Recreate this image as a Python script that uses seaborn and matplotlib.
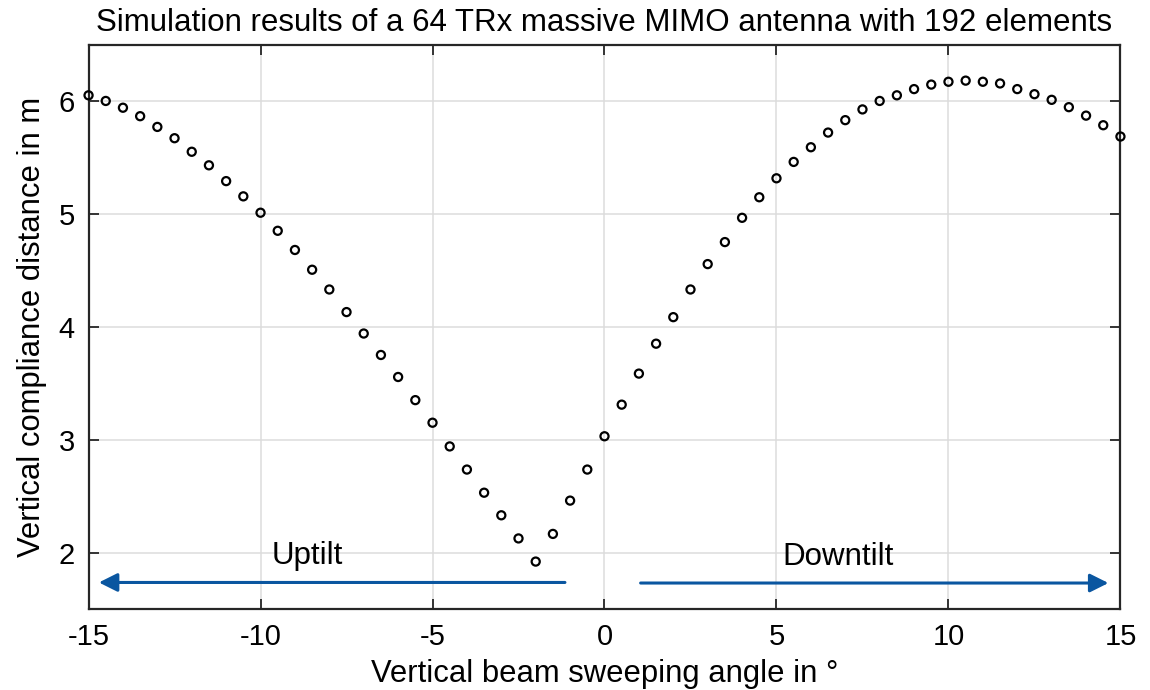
import numpy as np
import pandas as pd
import matplotlib
matplotlib.use("Agg")
import matplotlib.pyplot as plt
import seaborn as sns

# Beam sweeping angles (degrees) and simulated vertical compliance distances (m)
angles = [-15.0, -14.5, -14.0, -13.5, -13.0, -12.5, -12.0, -11.5, -11.0, -10.5,
          -10.0, -9.5, -9.0, -8.5, -8.0, -7.5, -7.0, -6.5, -6.0, -5.5,
          -5.0, -4.5, -4.0, -3.5, -3.0, -2.5, -2.0, -1.5, -1.0, -0.5,
          0.0, 0.5, 1.0, 1.5, 2.0, 2.5, 3.0, 3.5, 4.0, 4.5,
          5.0, 5.5, 6.0, 6.5, 7.0, 7.5, 8.0, 8.5, 9.0, 9.5,
          10.0, 10.5, 11.0, 11.5, 12.0, 12.5, 13.0, 13.5, 14.0, 14.5, 15.0]
distances = [6.05, 6.00, 5.94, 5.865, 5.77, 5.67, 5.55, 5.43, 5.29, 5.155,
             5.01, 4.85, 4.68, 4.505, 4.33, 4.13, 3.94, 3.75, 3.555, 3.35,
             3.15, 2.94, 2.735, 2.53, 2.33, 2.125, 1.92, 2.165, 2.46, 2.735,
             3.03, 3.31, 3.585, 3.85, 4.085, 4.33, 4.555, 4.75, 4.965, 5.147,
             5.315, 5.46, 5.59, 5.72, 5.83, 5.925, 6.00, 6.05, 6.105, 6.145,
             6.17, 6.18, 6.17, 6.155, 6.105, 6.06, 6.01, 5.945, 5.87, 5.785, 5.685]

x_ticks = [-15, -10, -5, 0, 5, 10, 15]
y_ticks = [2, 3, 4, 5, 6]

title = "Simulation results of a 64 TRx massive MIMO antenna with 192 elements"
x_label = "Vertical beam sweeping angle in °"
y_label = "Vertical compliance distance in m"

# Direction annotations: (label, arrow tail, arrow head, arrow y, label x)
uptilt = ("Uptilt", -1.15, -14.7, 1.735, -8.65)
downtilt = ("Downtilt", 1.05, 14.65, 1.73, 6.8)

sns.set_theme(style="white")
plt.rcParams["font.family"] = ["Liberation Sans", "DejaVu Sans"]
plt.rcParams["text.color"] = "black"
plt.rcParams["axes.labelcolor"] = "black"

df = pd.DataFrame({"angle": angles, "distance": distances})

fig = plt.figure(figsize=(11.5, 6.9), dpi=100)
ax = fig.add_axes([0.077, 0.1174, 0.8973, 0.8181])

sns.scatterplot(data=df, x="angle", y="distance", ax=ax, marker="o",
                s=34, facecolor="none", edgecolor="black", linewidth=1.6,
                clip_on=False, zorder=4)

ax.set_xlim(-15, 15)
ax.set_ylim(1.5, 6.5)
ax.set_xticks(x_ticks)
ax.set_yticks(y_ticks)
ax.set_xticklabels([str(t) for t in x_ticks])
ax.set_yticklabels([str(t) for t in y_ticks])

ax.grid(True, color="#dcdcdc", linewidth=1.1)
ax.set_axisbelow(True)
for sp in ax.spines.values():
    sp.set_visible(True)
    sp.set_color("#262626")
    sp.set_linewidth(1.6)

ax.tick_params(axis="both", which="both", direction="in", length=7, width=1.3,
               top=True, right=True, bottom=True, left=True,
               labelsize=21, colors="#262626", labelcolor="black", pad=10)

ax.set_title(title, fontsize=22.5, pad=10, color="black")
ax.set_xlabel(x_label, fontsize=22.3, labelpad=6)
ax.set_ylabel(y_label, fontsize=22.3, labelpad=8)

arrow_color = "#0a56a0"
for label, x0, x1, y, tx in (uptilt, downtilt):
    ax.annotate("", xy=(x1, y), xytext=(x0, y),
                arrowprops=dict(arrowstyle="-|>", color=arrow_color, lw=2.2,
                                mutation_scale=28, shrinkA=0, shrinkB=0))
    ax.text(tx, y + 0.1, label, fontsize=22.5, ha="center", va="bottom",
            color="black")

fig.savefig("out.png", dpi=100)
